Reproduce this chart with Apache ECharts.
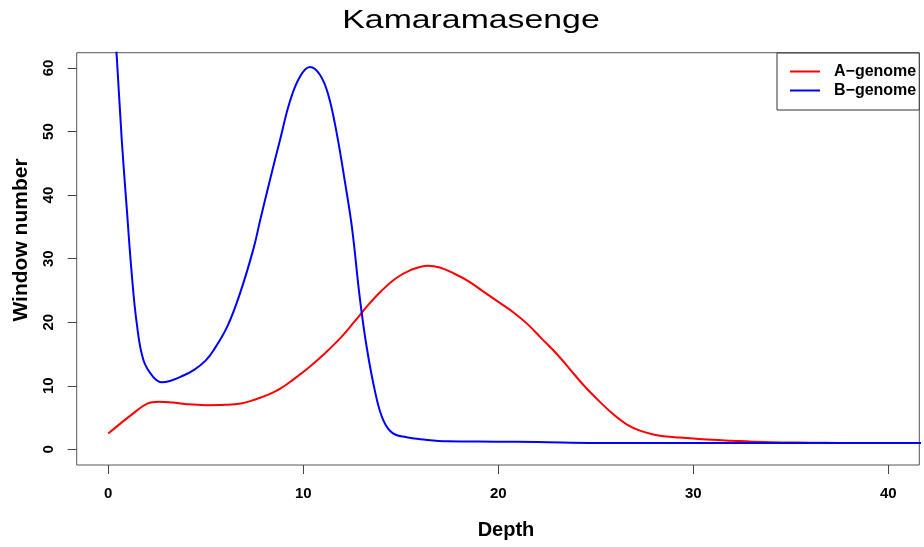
<!DOCTYPE html>
<html>
<head>
<meta charset="utf-8">
<script src="https://cdn.jsdelivr.net/npm/echarts@6/dist/echarts.min.js"></script>
<style>
  html, body { margin: 0; padding: 0; background: #fff; }
  #chart { width: 924px; height: 547px; }
</style>
</head>
<body>
<div id="chart"></div>
<script>
// Smoothed window-count curves by sequencing depth
const aDepth = [0, 0.6, 1.3, 2.0, 2.6, 3.3, 4.0, 5.0, 6.0, 6.8, 7.5, 8.2, 8.8, 9.5, 10.3, 11.0, 11.9, 12.6, 13.3, 14.0,
  14.7, 15.5, 16.4, 17.0, 17.7, 18.5, 19.2, 20.1, 20.8, 21.5, 22.2, 23.0, 23.7, 24.4, 25.2, 25.9, 26.6, 27.3, 28.0,
  28.6, 29.3, 30.0, 31.0, 32.0, 33.0, 34.0, 36.0, 38.0, 40.0, 42.0];
const aWindows = [2.5, 4.0, 5.7, 7.2, 7.5, 7.35, 7.1, 6.95, 7.0, 7.2, 7.8, 8.6, 9.5, 11.0, 12.9, 14.8, 17.5, 20.0, 22.6, 24.9,
  26.8, 28.2, 28.9, 28.6, 27.7, 26.4, 24.9, 23.0, 21.5, 19.7, 17.5, 15.0, 12.5, 10.0, 7.5, 5.5, 3.9, 2.9, 2.3,
  2.0, 1.85, 1.7, 1.5, 1.35, 1.2, 1.1, 1.05, 1.0, 1.0, 1.0];

const bDepth = [0, 0.2, 0.43, 0.69, 0.94, 1.2, 1.46, 1.8, 2.3, 2.75, 3.2, 3.7, 4.4, 5.0, 5.4, 6.1, 6.75, 7.44, 7.8, 8.3,
  8.8, 9.32, 9.82, 10.34, 10.86, 11.28, 11.71, 12.14, 12.5, 12.9, 13.25, 13.7, 14.1, 14.6, 15.3, 16.0, 17.4, 19.9, 22.0,
  25.0, 30.0, 35.0, 42.0];
const bWindows = [82, 72, 62, 48.7, 38.2, 27.7, 19.8, 14.05, 11.4, 10.55, 10.8, 11.4, 12.5, 14.0, 15.6, 19.3, 24.5, 31.5, 36.2, 42.5,
  48.6, 54.8, 58.6, 60.15, 58.9, 55.8, 49.8, 42.0, 34.8, 23.8, 16.1, 8.8, 4.6, 2.5, 1.9, 1.6, 1.25, 1.2, 1.15,
  1.0, 1.0, 1.0, 1.0];

const seriesNames = ['A\u2212genome', 'B\u2212genome'];
const xTicks = [0, 10, 20, 30, 40];
const yTicks = [0, 10, 20, 30, 40, 50, 60];

const FONT = '"Liberation Sans", Arial, Helvetica, sans-serif';
const pairs = (xs, ys) => xs.map((x, i) => [x, ys[i]]);

const chart = echarts.init(document.getElementById('chart'), null, { renderer: 'canvas' });

chart.setOption({
  animation: false,
  backgroundColor: '#ffffff',
  grid: {
    left: 76.7, right: 4.7, top: 52.7, bottom: 82,
    show: true, borderColor: '#555', borderWidth: 1, backgroundColor: 'transparent'
  },
  graphic: [
    {
      type: 'text', x: 471, y: 21, scaleX: 1.3,
      style: { text: 'Kamaramasenge', font: '26px ' + FONT, fill: '#000', textAlign: 'center', textVerticalAlign: 'middle' }
    },
    {
      type: 'text', x: 506, y: 530,
      style: { text: 'Depth', font: 'bold 20px ' + FONT, fill: '#000', textAlign: 'center', textVerticalAlign: 'middle' }
    },
    {
      type: 'text', x: 21, y: 240, rotation: Math.PI / 2,
      style: { text: 'Window number', font: 'bold 21px ' + FONT, fill: '#000', textAlign: 'center', textVerticalAlign: 'middle' }
    }
  ],
  legend: {
    data: seriesNames,
    orient: 'vertical',
    left: 777, top: 53,
    padding: [9, 3, 10, 13],
    itemGap: 0,
    itemWidth: 30, itemHeight: 2,
    icon: 'rect',
    borderColor: '#333', borderWidth: 1,
    backgroundColor: '#fff',
    textStyle: { fontFamily: FONT, fontWeight: 'bold', fontSize: 16, color: '#000', lineHeight: 19, padding: [0, 0, 0, 9] }
  },
  xAxis: {
    type: 'value',
    min: -1.62, max: 41.59,
    splitLine: { show: false },
    axisLine: { show: false, onZero: false },
    axisTick: { show: true, length: 9, customValues: xTicks, lineStyle: { color: '#444', width: 1 } },
    axisLabel: { customValues: xTicks, margin: 21, fontFamily: FONT, fontWeight: 'bold', fontSize: 15, color: '#000' }
  },
  yAxis: {
    type: 'value',
    min: -2.47, max: 62.41,
    splitLine: { show: false },
    axisLine: { show: false, onZero: false },
    axisTick: { show: true, length: 9, customValues: yTicks, lineStyle: { color: '#444', width: 1 } },
    axisLabel: { customValues: yTicks, rotate: 90, margin: 20, fontFamily: FONT, fontWeight: 'bold', fontSize: 15, color: '#000' }
  },
  series: [
    {
      name: seriesNames[0], type: 'line', data: pairs(aDepth, aWindows),
      smooth: 0.4, showSymbol: false, clip: true,
      lineStyle: { color: '#ff0000', width: 2 }, itemStyle: { color: '#ff0000' }, z: 2
    },
    {
      name: seriesNames[1], type: 'line', data: pairs(bDepth, bWindows),
      smooth: 0.4, showSymbol: false, clip: true,
      lineStyle: { color: '#0000ff', width: 2 }, itemStyle: { color: '#0000ff' }, z: 3
    }
  ]
});
</script>
</body>
</html>
